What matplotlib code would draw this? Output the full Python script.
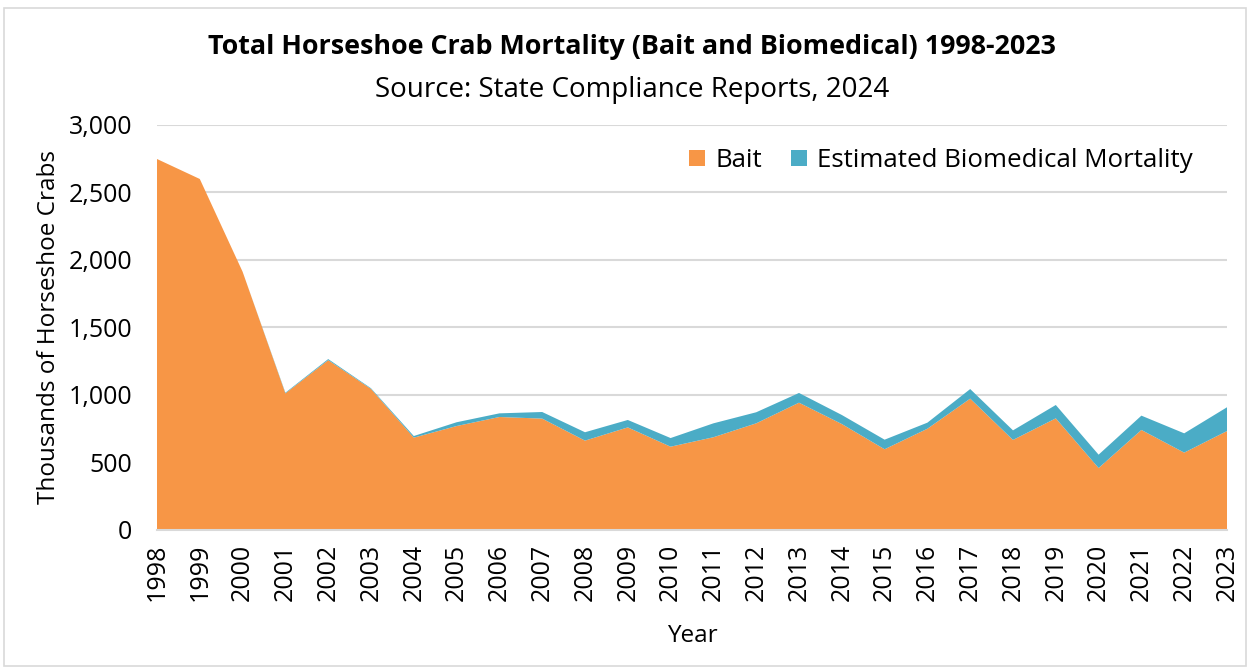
import numpy as np
import matplotlib
matplotlib.use('Agg')
import matplotlib.pyplot as plt
from matplotlib.patches import Rectangle

plt.rcParams['font.family'] = ['Open Sans', 'DejaVu Sans']

# thousands of crabs per year
years = list(range(1998, 2024))
bait = [2748, 2600, 1913, 1012, 1258, 1045, 684, 770, 837, 825, 662, 760, 617,
        687, 790, 943, 785, 598, 750, 973, 667, 827, 459, 741, 573, 733]
biomedical = [0, 0, 0, 5, 8, 5, 12, 28, 27, 49, 62, 55, 64,
              103, 82, 72, 67, 71, 45, 71, 71, 99, 99, 106, 143, 176]

fig = plt.figure(figsize=(12.5, 6.68), dpi=100)
ax = fig.add_axes([0.1256, 0.2066, 0.856, 0.6063])

ax.stackplot(years, bait, biomedical, colors=['#F79646', '#4BACC6'],
             labels=['Bait', 'Estimated Biomedical Mortality'], linewidth=0)

ax.set_xlim(1998, 2023)
ax.set_ylim(0, 3000)
ax.set_yticks(np.arange(0, 3001, 500))
ax.set_yticklabels(['{:,}'.format(v) for v in range(0, 3001, 500)], fontsize=18)
ax.set_xticks(years)
ax.set_xticklabels([str(y) for y in years], rotation=90, fontsize=18)
ax.tick_params(length=0)
ax.tick_params(axis='y', pad=18)
ax.tick_params(axis='x', pad=10)
ax.grid(axis='y', color='#d9d9d9', linewidth=1.5)
ax.set_axisbelow(True)
for s in ['top', 'right', 'left']:
    ax.spines[s].set_visible(False)
ax.spines['bottom'].set_color('#d9d9d9')
ax.spines['bottom'].set_linewidth(1.5)

ax.set_ylabel('Thousands of Horseshoe Crabs', fontsize=17.5, labelpad=5)
ax.set_xlabel('Year', fontsize=17.5, labelpad=16)

fig.text(0.5055, 0.929, 'Total Horseshoe Crab Mortality (Bait and Biomedical) 1998-2023',
         ha='center', va='center', fontsize=19.4, fontweight='bold')
fig.text(0.5055, 0.866, 'Source: State Compliance Reports, 2024',
         ha='center', va='center', fontsize=20)

ax.legend(loc='upper right', bbox_to_anchor=(0.99, 1.0), frameon=False, ncol=2,
          fontsize=18.6, handlelength=0.6, handleheight=0.6, columnspacing=1.15,
          handletextpad=0.4)

# light border around the whole chart
fig.patches.append(Rectangle((0.003, 0.003), 0.994, 0.985, transform=fig.transFigure,
                             fill=False, edgecolor='#d9d9d9', linewidth=1.2))

fig.savefig('out.png', dpi=100)
